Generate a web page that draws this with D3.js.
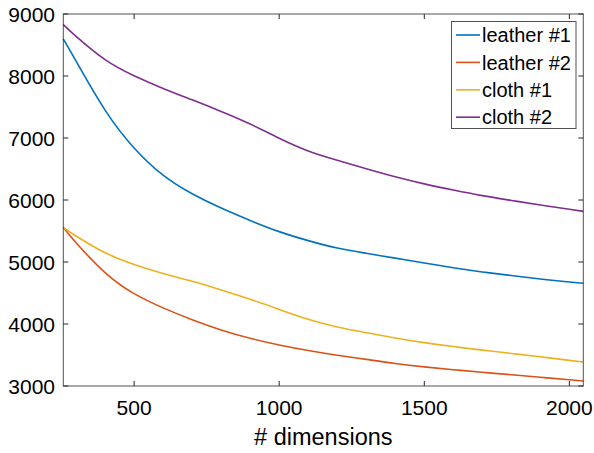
<!DOCTYPE html>
<html>
<head>
<meta charset="utf-8">
<script src="https://cdn.jsdelivr.net/npm/d3@7"></script>
<style>
  html, body { margin: 0; padding: 0; background: #fff; }
  svg { display: block; font-family: "Liberation Sans", Arial, Helvetica, sans-serif; }
</style>
</head>
<body>
<svg id="chart" width="594" height="453"></svg>
<script>
// Embedding dimension on the x axis
const dims = [256, 300, 400, 500, 600, 700, 800, 900, 1000, 1100, 1200, 1300, 1400, 1500, 1600, 1700, 1800, 1900, 2000, 2048];

// One value per dimension for each material sample
const leather1 = [8600, 8240, 7450, 6840, 6400, 6100, 5870, 5670, 5490, 5345, 5225, 5140, 5062, 4984, 4907, 4840, 4782, 4726, 4678, 4656];
const leather2 = [5560, 5310, 4829, 4490, 4260, 4070, 3905, 3770, 3662, 3573, 3497, 3429, 3363, 3308, 3262, 3221, 3181, 3141, 3100, 3081];
const cloth1   = [5560, 5420, 5150, 4960, 4815, 4690, 4550, 4400, 4235, 4075, 3952, 3860, 3775, 3700, 3636, 3579, 3525, 3471, 3414, 3387];
const cloth2   = [8830, 8640, 8265, 8005, 7800, 7615, 7428, 7225, 6995, 6790, 6640, 6505, 6375, 6260, 6160, 6070, 5993, 5919, 5850, 5817];

const seriesNames = ["leather #1", "leather #2", "cloth #1", "cloth #2"];
const seriesColors = ["#0072BD", "#D95319", "#EDB120", "#7E2F8E"];
const seriesValues = [leather1, leather2, cloth1, cloth2];

const xTicks = [500, 1000, 1500, 2000];
const yTicks = [3000, 4000, 5000, 6000, 7000, 8000, 9000];
const xLabel = "# dimensions";

const svg = d3.select("#chart");
const pLeft = 63.3, pRight = 583.3, pTop = 14, pBottom = 386;

const x = d3.scaleLinear().domain([256, 2048]).range([pLeft, pRight]);
const y = d3.scaleLinear().domain([3000, 9000]).range([pBottom, pTop]);

const axisColor = "#262626";
const tickLen = 5;

// Data lines
const line = d3.line()
  .x(d => x(d[0]))
  .y(d => y(d[1]))
  .curve(d3.curveNatural);

const plot = svg.append("g");
seriesValues.forEach((vals, i) => {
  plot.append("path")
    .datum(dims.map((d, j) => [d, vals[j]]))
    .attr("fill", "none")
    .attr("stroke", seriesColors[i])
    .attr("stroke-width", 1.6)
    .attr("d", line);
});

// Box with inward ticks on all four sides
const box = svg.append("g");
box.append("rect")
  .attr("x", pLeft).attr("y", pTop)
  .attr("width", pRight - pLeft).attr("height", pBottom - pTop)
  .attr("fill", "none").attr("stroke", axisColor).attr("stroke-width", 1).attr("stroke-opacity", 0.8);

xTicks.forEach(t => {
  box.append("line").attr("x1", x(t)).attr("x2", x(t)).attr("y1", pBottom).attr("y2", pBottom - tickLen)
    .attr("stroke", axisColor).attr("stroke-width", 1);
  box.append("line").attr("x1", x(t)).attr("x2", x(t)).attr("y1", pTop).attr("y2", pTop + tickLen)
    .attr("stroke", axisColor).attr("stroke-width", 1);
  svg.append("text").attr("x", x(t)).attr("y", 415)
    .attr("text-anchor", "middle").attr("font-size", 21).attr("fill", "#000")
    .text(d3.format("d")(t));
});

yTicks.forEach(t => {
  box.append("line").attr("x1", pLeft).attr("x2", pLeft + tickLen).attr("y1", y(t)).attr("y2", y(t))
    .attr("stroke", axisColor).attr("stroke-width", 1);
  box.append("line").attr("x1", pRight).attr("x2", pRight - tickLen).attr("y1", y(t)).attr("y2", y(t))
    .attr("stroke", axisColor).attr("stroke-width", 1);
  svg.append("text").attr("x", 55).attr("y", y(t)).attr("dy", "0.36em")
    .attr("text-anchor", "end").attr("font-size", 21).attr("fill", "#000")
    .text(d3.format("d")(t));
});

svg.append("text").attr("x", (pLeft + pRight) / 2).attr("y", 445)
  .attr("text-anchor", "middle").attr("font-size", 23.5).attr("fill", "#000")
  .text(xLabel);

// Legend
const lg = svg.append("g");
lg.append("rect").attr("x", 451.5).attr("y", 21.5).attr("width", 124.5).attr("height", 107)
  .attr("fill", "#fff").attr("stroke", axisColor).attr("stroke-width", 1).attr("stroke-opacity", 0.8);
seriesNames.forEach((name, i) => {
  const cy = 35 + i * 27.4;
  lg.append("line").attr("x1", 456).attr("x2", 480).attr("y1", cy).attr("y2", cy)
    .attr("stroke", seriesColors[i]).attr("stroke-width", 1.6);
  lg.append("text").attr("x", 482).attr("y", cy).attr("dy", "0.36em")
    .attr("font-size", 20).attr("fill", "#000").text(name);
});
</script>
</body>
</html>
